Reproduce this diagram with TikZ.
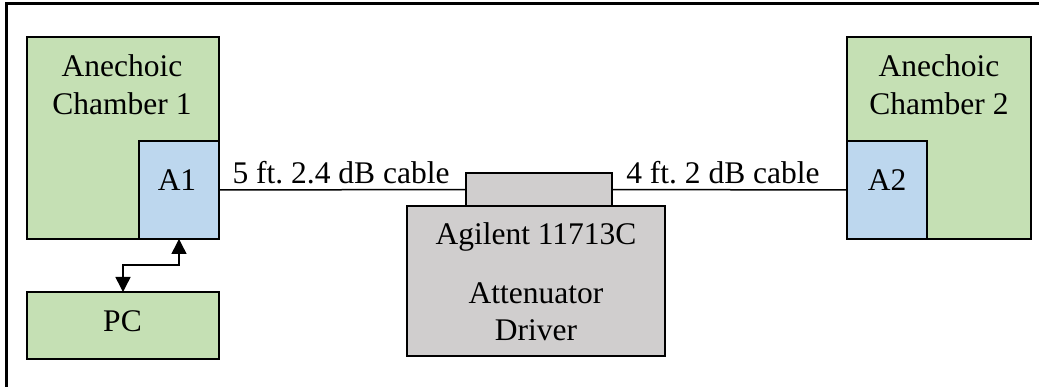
\documentclass[tikz,border=0pt]{standalone}
\usepackage{fontspec}
\setmainfont{Liberation Serif}
\usetikzlibrary{arrows.meta}
\definecolor{chgreen}{HTML}{C5E0B4}
\definecolor{anblue}{HTML}{BDD7EE}
\definecolor{drgray}{HTML}{D0CECE}
\frenchspacing
\begin{document}
\begin{tikzpicture}[x=1pt,y=-1pt,
  box/.style={draw=black, line width=1.5pt, inner sep=0pt, outer sep=0pt},
  txt/.style={font=\fontsize{31.5}{38}\selectfont, inner sep=0pt, anchor=base},
  wire/.style={draw=black, line width=1.5pt},
  tipped/.style={{Triangle[width=15pt,length=15pt]}-{Triangle[width=15pt,length=15pt]}}]
\useasboundingbox (0,0) rectangle (1039,387);
\draw[line width=2.5pt] (6.5,387) -- (6.5,3.5) -- (1039,3.5);
% boxes
\node[box, fill=chgreen, minimum width=192pt, minimum height=202pt] (ch1) at (123,138) {};
\node[box, fill=anblue, minimum width=80pt, minimum height=98pt] (a1) at (179,190) {};
\node[box, fill=chgreen, minimum width=192pt, minimum height=67pt] (pc) at (123,325.5) {};
\node[box, fill=drgray, minimum width=146pt, minimum height=33pt] (port) at (539,189.5) {};
\node[box, fill=drgray, minimum width=258pt, minimum height=150pt] (drv) at (536,281) {};
\node[box, fill=chgreen, minimum width=184pt, minimum height=202pt] (ch2) at (939,138) {};
\node[box, fill=anblue, minimum width=80pt, minimum height=98pt] (a2) at (887,190) {};
% texts
\node[txt] (ch1a) at (122,77) {Anechoic};
\node[txt] (ch1b) at (122,115) {Chamber 1};
\node[txt] (a1t) at (177,191) {A1};
\node[txt] (pct) at (122.5,331) {PC};
\node[txt] (c1t) at (341,184) {5 ft. 2.4 dB cable};
\node[txt] (c2t) at (723,184) {4 ft. 2 dB cable};
\node[txt] (dr1) at (536,245) {Agilent 11713C};
\node[txt] (dr2) at (536,304) {Attenuator};
\node[txt] (dr3) at (536,341) {Driver};
\node[txt] (ch2a) at (939,77) {Anechoic};
\node[txt] (ch2b) at (939,115) {Chamber 2};
\node[txt] (a2t) at (887,191) {A2};
% connectors
\draw[wire] (a1.east) -- (port.west);
\draw[wire] (port.east) -- (a2.west);
\draw[wire, tipped] (a1.south) -- ++(0,26) -| (pc.north);
\end{tikzpicture}
\end{document}
